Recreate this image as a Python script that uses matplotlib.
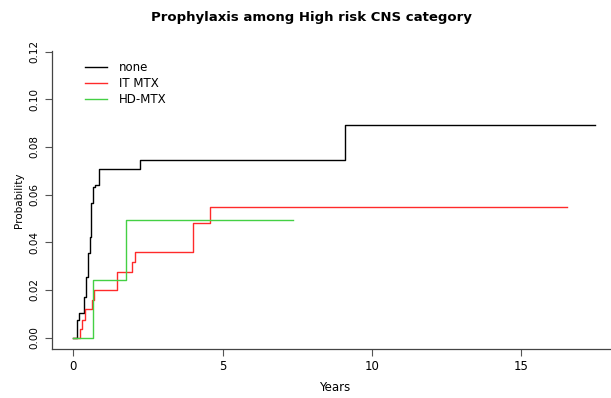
import numpy as np
import matplotlib.pyplot as plt

# cumulative incidence step data (years, probability)
none_t = [0, 0.11, 0.20, 0.37, 0.42, 0.50, 0.56, 0.61, 0.67, 0.73, 0.87, 2.23, 9.11, 17.45]
none_p = [0, 0.0073, 0.0103, 0.0171, 0.0255, 0.0353, 0.0423, 0.0563, 0.0633, 0.064, 0.0706, 0.0745, 0.0892, 0.0892]

itmtx_t = [0, 0.22, 0.30, 0.39, 0.64, 0.70, 1.45, 1.97, 2.06, 4.01, 4.57, 16.53]
itmtx_p = [0, 0.0038, 0.0073, 0.012, 0.0157, 0.0199, 0.0276, 0.0318, 0.036, 0.0479, 0.0549, 0.0549]

hdmtx_t = [0, 0.67, 1.76, 7.35]
hdmtx_p = [0, 0.0241, 0.0493, 0.0493]

labels = ['none', 'IT MTX', 'HD-MTX']
colors = ['black', '#FF2A2A', '#44D044']

xticks = [0, 5, 10, 15]
yticks = [0.00, 0.02, 0.04, 0.06, 0.08, 0.10, 0.12]

W, H = 611, 398
fig = plt.figure(figsize=(W / 100, H / 100), dpi=100)
# plot region in pixels: left 52, right 617 (cropped), top 51, bottom 349
ax = fig.add_axes([52.3 / W, (H - 349) / H, (617 - 52.3) / W, (349 - 51) / H])

ax.step(none_t, none_p, where='post', color=colors[0], lw=1, label=labels[0])
ax.step(itmtx_t, itmtx_p, where='post', color=colors[1], lw=1, label=labels[1])
ax.step(hdmtx_t, hdmtx_p, where='post', color=colors[2], lw=1, label=labels[2])

ax.set_xlim(-0.7, 18.2)
ax.set_ylim(-0.0048, 0.1203)
ax.spines['top'].set_visible(False)
ax.spines['right'].set_visible(False)
for s in ['left', 'bottom']:
    ax.spines[s].set_color('#444444')
    ax.spines[s].set_linewidth(0.9)

ax.set_xticks(xticks)
ax.set_xticklabels([str(x) for x in xticks], fontsize=8.5)
ax.set_yticks(yticks)
ax.set_yticklabels(['%.2f' % y for y in yticks], fontsize=7.5, rotation=90, va='center')
ax.tick_params(direction='out', length=5, width=0.8, color='#555555', pad=3)
ax.tick_params(axis='y', pad=4)

ax.set_xlabel('Years', fontsize=8.5, labelpad=6)
ax.set_ylabel('Probability', fontsize=7.5, labelpad=4)

fig.text(311 / W, 1 - 17 / H, 'Prophylaxis among High risk CNS category',
         ha='center', va='center', fontsize=9.5, fontweight='bold')

ax.legend(loc='upper left', bbox_to_anchor=(0.049, 0.983), frameon=False,
          fontsize=8.5, handlelength=1.9, handletextpad=1.0, labelspacing=0.25,
          borderaxespad=0)

fig.savefig('out.png', dpi=100)
